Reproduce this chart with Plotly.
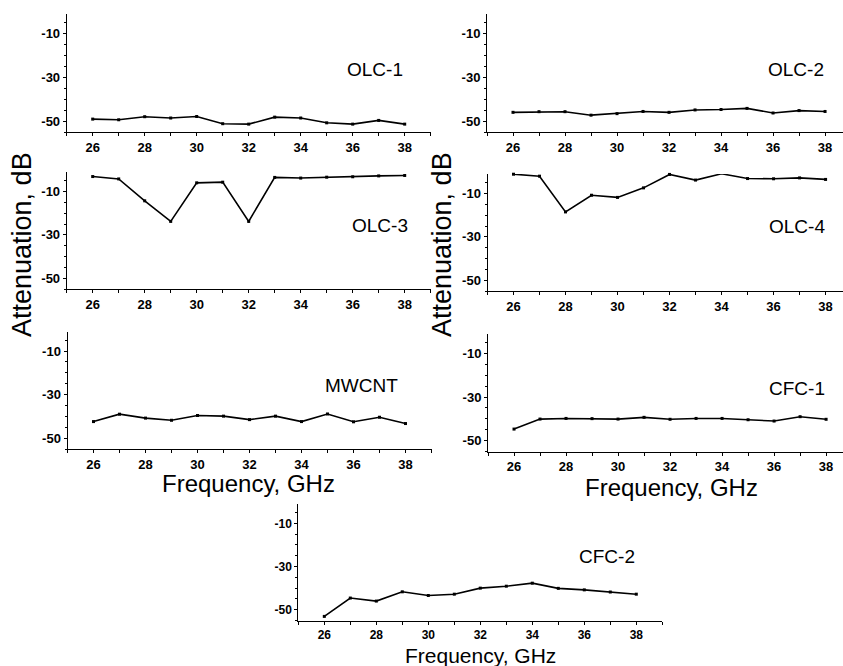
import plotly.graph_objects as go

freq = [26, 27, 28, 29, 30, 31, 32, 33, 34, 35, 36, 37, 38]

olc1 = [-49.1, -49.4, -48.0, -48.6, -47.9, -51.2, -51.4, -48.2, -48.6, -50.8, -51.4, -49.7, -51.4]
olc2 = [-46.0, -45.7, -45.7, -47.3, -46.6, -45.6, -46.0, -44.9, -44.7, -44.2, -46.3, -45.2, -45.6]
olc3 = [-3.1, -4.2, -14.3, -23.8, -6.0, -5.7, -23.8, -3.5, -3.8, -3.4, -3.2, -2.8, -2.6]
olc4 = [-1.1, -2.0, -18.5, -10.8, -11.8, -7.4, -1.2, -3.8, -0.9, -3.1, -3.2, -2.8, -3.5]
mwcnt = [-42.4, -39.0, -40.8, -41.8, -39.6, -39.9, -41.5, -39.9, -42.4, -38.9, -42.5, -40.4, -43.3]
cfc1 = [-44.7, -40.1, -39.8, -39.9, -40.1, -39.3, -40.2, -39.8, -39.8, -40.4, -41.0, -39.0, -40.2]
cfc2 = [-53.1, -44.6, -46.0, -41.7, -43.4, -42.8, -40.0, -39.1, -37.7, -40.1, -40.8, -41.8, -42.8]

names = ["OLC-1", "OLC-2", "OLC-3", "OLC-4", "MWCNT", "CFC-1", "CFC-2"]
series = [olc1, olc2, olc3, olc4, mwcnt, cfc1, cfc2]

x_tickvals = [26, 28, 30, 32, 34, 36, 38]
x_ticktext = ["26", "28", "30", "32", "34", "36", "38"]
y_tickvals = [-50, -30, -10]
y_ticktext = ["-50", "-30", "-10"]

x_title = "Frequency, GHz"
y_title = "Attenuation, dB"

W, H = 843, 666

# panel geometry in pixels: (x_left, x_right, y_top, y_bottom, x_range_max)
panels = [
    (66.7, 430.7, 14, 132, 39),
    (487.0, 843, 14, 132, 38.69),
    (66.7, 430.7, 172, 289, 39),
    (487.5, 843, 174, 291, 38.67),
    (67.5, 431.5, 331.5, 449, 39),
    (488.0, 843, 334, 451.5, 38.65),
    (298.3, 662.3, 504, 620.5, 39),
]
label_pos = [(375, 69), (796, 69), (380, 225), (797, 227), (361, 385), (797, 388), (607, 556)]

fig = go.Figure()
layout = {}
for i, (name, ys) in enumerate(zip(names, series)):
    n = "" if i == 0 else str(i + 1)
    tfs = 12 if i == 6 else 13
    tickfont = dict(family="Liberation Sans, Arial", size=tfs, color="black", weight="bold")
    fig.add_trace(go.Scatter(
        x=freq, y=ys, mode="lines+markers", name=name,
        line=dict(color="black", width=1.6),
        marker=dict(symbol="square", size=3, color="black"),
        xaxis="x" + n, yaxis="y" + n, cliponaxis=False, showlegend=False,
    ))
    x0, x1, y0, y1, xmax = panels[i]
    layout["xaxis" + n] = dict(
        domain=[x0 / W, min(x1 / W, 1)], range=[25, xmax], anchor="y" + n,
        tickmode="array", tickvals=x_tickvals, ticktext=x_ticktext,
        ticks="outside", ticklen=3, tickwidth=1, tickcolor="black",
        minor=dict(tickmode="linear", tick0=25, dtick=1, ticks="outside", ticklen=3,
                   tickwidth=1, tickcolor="black"),
        showline=True, linecolor="black", linewidth=1, showgrid=False, zeroline=False,
        tickfont=tickfont,
    )
    layout["yaxis" + n] = dict(
        domain=[1 - y1 / H, 1 - y0 / H], range=[-55, -1], anchor="x" + n,
        tickmode="array", tickvals=y_tickvals, ticktext=y_ticktext,
        ticks="outside", ticklen=3, tickwidth=1, tickcolor="black",
        minor=dict(tickmode="linear", tick0=-55, dtick=5, ticks="outside", ticklen=2,
                   tickwidth=1, tickcolor="black"),
        showline=True, linecolor="black", linewidth=1, showgrid=False, zeroline=False,
        tickfont=tickfont,
    )

annotations = []
for name, (px, py) in zip(names, label_pos):
    annotations.append(dict(
        x=px / W, y=1 - py / H, xref="paper", yref="paper", text=name, showarrow=False,
        font=dict(family="Liberation Sans, Arial", size=19, color="black"),
        xanchor="center", yanchor="middle",
    ))
for px, py, size in [(248, 483, 24), (671, 487, 24)]:
    annotations.append(dict(
        x=px / W, y=1 - py / H, xref="paper", yref="paper", text=x_title, showarrow=False,
        font=dict(family="Liberation Sans, Arial", size=size, color="black"),
        xanchor="center", yanchor="middle",
    ))
annotations.append(dict(
    x=480 / W, y=0, xref="paper", yref="paper", text=x_title, showarrow=False,
    font=dict(family="Liberation Sans, Arial", size=21, color="black"),
    xanchor="center", yanchor="bottom", yshift=-2, borderpad=0,
))
for px, py in [(22, 245), (442, 245)]:
    annotations.append(dict(
        x=px / W, y=1 - py / H, xref="paper", yref="paper", text=y_title, showarrow=False,
        textangle=-90,
        font=dict(family="Liberation Sans, Arial", size=27, color="black"),
        xanchor="center", yanchor="middle",
    ))

fig.update_layout(
    width=W, height=H, margin=dict(l=0, r=0, t=0, b=0),
    paper_bgcolor="white", plot_bgcolor="white",
    annotations=annotations, **layout,
)

fig.write_html(
    "out.html",
    config={"displayModeBar": False},
    post_script="document.body.style.margin='0';document.body.style.overflow='hidden';",
)
